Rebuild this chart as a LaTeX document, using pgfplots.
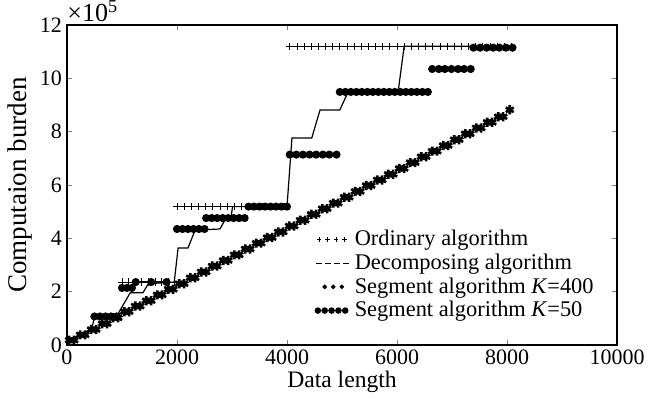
\documentclass[border=0pt]{standalone}
\usepackage{pgfplots}
\pgfplotsset{compat=1.18}
\usepackage{fontspec}
\setmainfont{Liberation Serif}
\begin{document}
\begin{tikzpicture}
\begin{axis}[
  scale only axis, width=275pt, height=160pt,
  xmin=0, xmax=10000, ymin=0, ymax=12,
  xtick={0,2000,4000,6000,8000,10000},
  ytick={0,2,4,6,8,10,12},
  scaled x ticks=false,
  x tick label style={/pgf/number format/1000 sep={}},
  /pgf/number format/assume math mode=true,
  tick align=inside, major tick length=2.5pt,
  xtick pos=both, ytick pos=both,
  tick label style={font=\fontsize{11}{13}\selectfont},
  xticklabel style={yshift=1pt},
  yticklabel style={xshift=1pt},
  xlabel={Data length}, ylabel={Computaion burden},
  xlabel style={yshift=4pt, font=\fontsize{11.8}{13}\selectfont},
  ylabel style={yshift=-3pt, font=\fontsize{13.5}{15}\selectfont},
  axis line style={line width=0.6pt},
  unbounded coords=jump,
  clip=false,
  legend style={at={(axis cs:4460,4.55)}, anchor=north west, draw=none, fill=none,
     font=\fontsize{11.2}{12}\selectfont, row sep=-1.4pt, inner sep=1pt},
  legend cell align=left,
]
% Ordinary algorithm
\addplot[black, line width=0.4pt, mark=+, mark size=1.8pt,
  legend image code/.code={\foreach \xx in {0.05,0.2,0.35,0.5}{\draw[line width=0.45pt] (\xx cm-1.1pt,0cm)--(\xx cm+1.1pt,0cm) (\xx cm,-1.1pt)--(\xx cm,1.1pt);}}]
coordinates {
(480,1.07)(600,1.07)(720,1.07)(840,1.07)(960,1.07)
(960,nan)
(1000,2.36)(1120,2.36)(1240,2.36)(1360,2.36)(1480,2.36)(1600,2.36)(1720,2.36)(1840,2.36)(1960,2.36)
(1960,nan)
(2000,5.19)(2130,5.19)(2260,5.19)(2390,5.19)(2520,5.19)(2650,5.19)(2780,5.19)(2910,5.19)(3040,5.19)(3170,5.19)(3300,5.19)(3430,5.19)(3560,5.19)(3690,5.19)(3820,5.19)(3950,5.19)
(3950,nan)
(4050,11.2)(4180,11.2)(4310,11.2)(4440,11.2)(4570,11.2)(4700,11.2)(4830,11.2)(4960,11.2)(5090,11.2)(5220,11.2)(5350,11.2)(5480,11.2)(5610,11.2)(5740,11.2)(5870,11.2)(6000,11.2)(6130,11.2)(6260,11.2)(6390,11.2)(6520,11.2)(6650,11.2)(6780,11.2)(6910,11.2)(7040,11.2)(7170,11.2)(7300,11.2)(7430,11.2)(7560,11.2)(7690,11.2)(7820,11.2)(7950,11.2)(8080,11.2)
};
\addlegendentry{Ordinary algorithm}
% Decomposing algorithm
\addplot[black, line width=0.6pt, mark=none,
  legend image code/.code={\draw[line width=0.45pt, dash pattern=on 3pt off 1.5pt] (0cm,0cm)--(0.6cm,0cm);}]
coordinates {
(50,0.2)(450,0.6)(500,1.07)(900,1.07)(1150,1.96)(1380,1.96)(1480,2.3)(1950,2.36)
(2020,3.64)(2200,3.64)(2330,4.31)(2780,4.35)(2890,4.75)(2980,4.75)(3010,5.19)(4000,5.19)
(4090,7.76)(4450,7.76)(4600,8.81)(4960,8.81)(5110,9.49)(6020,9.49)(6130,11.2)(8100,11.2)
};
\addlegendentry{Decomposing algorithm}
% Segment K=400
\addplot[black, only marks, mark=asterisk, mark size=2.3pt, line width=1.3pt,
  legend image code/.code={\foreach \xx in {0.15,0.3,0.45}{\fill (\xx cm,0cm) circle (0.3pt);}}]
coordinates {
(40,0.18)(130,0.18)(240,0.38)(330,0.38)(440,0.58)(530,0.58)(640,0.80)(730,0.80)
(840,1.02)(930,1.02)(1040,1.25)(1130,1.25)(1240,1.46)(1330,1.46)(1440,1.66)(1530,1.66)
(1640,1.88)(1730,1.88)(1840,2.09)(1930,2.09)(2040,2.30)(2130,2.30)(2240,2.52)(2330,2.52)
(2440,2.74)(2530,2.74)(2640,2.96)(2730,2.96)(2840,3.17)(2930,3.17)(3040,3.38)(3130,3.38)
(3240,3.60)(3330,3.60)(3440,3.82)(3530,3.82)(3640,4.03)(3730,4.03)(3840,4.24)(3930,4.24)
(4040,4.46)(4130,4.46)(4240,4.68)(4330,4.68)(4440,4.90)(4530,4.90)(4640,5.11)(4730,5.11)
(4840,5.32)(4930,5.32)(5040,5.54)(5130,5.54)(5240,5.76)(5330,5.76)(5440,5.98)(5530,5.98)
(5640,6.19)(5730,6.19)(5840,6.40)(5930,6.40)(6040,6.62)(6130,6.62)(6240,6.84)(6330,6.84)
(6440,7.06)(6530,7.06)(6640,7.27)(6730,7.27)(6840,7.48)(6930,7.48)(7040,7.70)(7130,7.70)
(7240,7.92)(7330,7.92)(7440,8.14)(7530,8.14)(7640,8.35)(7730,8.35)(7840,8.56)(7930,8.56)
(8050,8.82)
};
\addlegendentry{Segment algorithm \textit{K}=400}
% Segment K=50
\addplot[black, line width=1pt, mark=*, mark size=1.5pt,
  legend image code/.code={\foreach \xx in {0.03,0.15,0.27,0.39,0.51}{\fill (\xx cm,0cm) circle (1.1pt);}\draw[line width=0.8pt] (0.03cm,0cm)--(0.51cm,0cm);}]
coordinates {
(500,1.07)(600,1.07)(700,1.07)(800,1.07)(900,1.07)
(900,nan)
(1000,2.14)(1090,2.14)(1180,2.14)
(1180,nan)
(1250,2.36)(1530,2.36)(1810,2.36)
(1810,nan)
(2000,4.35)(2100,4.35)(2200,4.35)(2300,4.35)(2400,4.35)(2500,4.35)
(2500,nan)
(2530,4.76)(2630,4.76)(2730,4.76)(2830,4.76)(2930,4.76)(3030,4.76)(3130,4.76)(3230,4.76)
(3230,nan)
(3300,5.19)(3400,5.19)(3500,5.19)(3600,5.19)(3700,5.19)(3800,5.19)(3900,5.19)(4000,5.19)
(4000,nan)
(4050,7.14)(4170,7.14)(4290,7.14)(4410,7.14)(4530,7.14)(4650,7.14)(4770,7.14)(4900,7.14)
(4900,nan)
(4960,9.49)(5060,9.49)(5160,9.49)(5260,9.49)(5360,9.49)(5460,9.49)(5560,9.49)(5660,9.49)(5760,9.49)(5860,9.49)(5960,9.49)(6060,9.49)(6160,9.49)(6260,9.49)(6360,9.49)(6460,9.49)(6560,9.49)
(6560,nan)
(6640,10.35)(6760,10.35)(6870,10.35)(6990,10.35)(7110,10.35)(7220,10.35)(7340,10.35)
(7340,nan)
(7390,11.15)(7510,11.15)(7630,11.15)(7750,11.15)(7860,11.15)(7980,11.15)(8100,11.15)
};
\addlegendentry{Segment algorithm \textit{K}=50}
\node[anchor=south west, inner sep=0pt, font=\fontsize{13}{14}\selectfont] at (rel axis cs:0,1) [yshift=1.5pt] {×10\textsuperscript{5}};
\end{axis}
\pgfresetboundingbox
\path[use as bounding box] (-33.5pt,-26.5pt) rectangle (295pt,172.5pt);
\end{tikzpicture}
\end{document}
